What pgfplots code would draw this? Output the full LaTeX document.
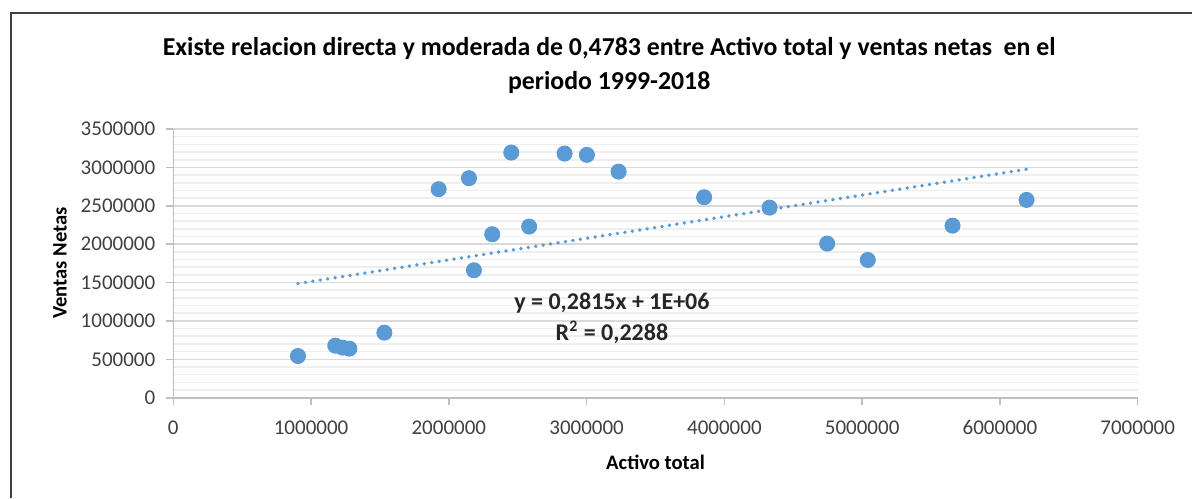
\documentclass[border=0pt]{standalone}
\usepackage{pgfplots}
\pgfplotsset{compat=1.18}
\usepackage{fontspec}
\setmainfont{Carlito}
\definecolor{ptblue}{HTML}{5B9BD5}
\definecolor{majgrid}{HTML}{D9D9D9}
\definecolor{mingrid}{HTML}{EEEEEE}
\definecolor{axgray}{HTML}{BFBFBF}
\definecolor{txtgray}{HTML}{404040}
\definecolor{framegray}{HTML}{404040}
\begin{document}
\begin{tikzpicture}
\useasboundingbox (0,0) rectangle (596pt,249pt);
\draw[framegray, line width=1pt] (5.5pt,0pt) -- (5.5pt,242.5pt) -- (596pt,242.5pt);
\begin{axis}[
  scale only axis,
  width=482.2pt, height=134.35pt,
  at={(86.65pt,50.15pt)}, anchor=south west,
  xmin=0, xmax=7000000, ymin=0, ymax=3500000,
  axis x line*=bottom, axis y line*=left,
  axis line style={axgray, line width=0.8pt},
  xtick={0,1000000,...,7000000},
  ytick={0,500000,...,3500000},
  minor y tick num=4,
  ymajorgrids, yminorgrids,
  major grid style={majgrid, line width=0.8pt},
  minor grid style={mingrid, line width=0.8pt},
  tick align=outside,
  major tick length=3.5pt,
  minor tick length=0pt,
  tick style={axgray, line width=0.8pt},
  scaled ticks=false,
  /pgf/number format/fixed,
  /pgf/number format/1000 sep={},
  /pgf/number format/precision=0,
  /pgf/number format/assume math mode=true,
  ticklabel style={font=\fontsize{10.5}{12}\selectfont, text=txtgray},
  xticklabel style={yshift=-4.5pt},
  yticklabel style={xshift=-2pt},
  xlabel={Activo total},
  ylabel={Ventas Netas},
  xlabel style={font=\bfseries\fontsize{10.3}{12}\selectfont, at={(axis description cs:0.5,-0.239)}, anchor=center},
  ylabel style={font=\bfseries\fontsize{10.3}{12}\selectfont, at={(axis description cs:-0.1175,0.501)}, anchor=center, rotate=0},
  title={Existe relacion directa y moderada de 0,4783 entre Activo total y ventas netas\ \ en el\\periodo 1999-2018},
  title style={font=\bfseries\fontsize{12.9}{17}\selectfont, align=center, at={(axis description cs:0.452,1.19)}, anchor=center, yshift=0pt},
  clip=false,
]
\addplot[ptblue, line width=1.9pt, dash pattern=on 0.01pt off 3.75pt, line cap=round] coordinates {
  (905000,1486700) (6193000,2975200)
};
\addplot[only marks, mark=*, mark size=3.8pt, mark options={fill=ptblue, draw=ptblue}] coordinates {
  (905000,543000)
  (1176000,678000)
  (1229000,652000)
  (1278000,639000)
  (1532000,847000)
  (1926000,2716000)
  (2146000,2859000)
  (2453000,3193000)
  (2315000,2129000)
  (2583000,2229000)
  (2182000,1660000)
  (2840000,3180000)
  (3002000,3163000)
  (3232000,2945000)
  (3853000,2611000)
  (4328000,2476000)
  (4746000,2007000)
  (5041000,1794000)
  (5656000,2241000)
  (6193000,2576000)
};
\node[font=\bfseries\fontsize{12}{14}\selectfont, text=black!85, anchor=center] at (axis cs:3184000,1234000) {y = 0,2815x + 1E+06};
\node[font=\bfseries\fontsize{12}{14}\selectfont, text=black!85, anchor=center] at (axis cs:3184000,847000) {R\textsuperscript{2} = 0,2288};
\end{axis}
\end{tikzpicture}
\end{document}
